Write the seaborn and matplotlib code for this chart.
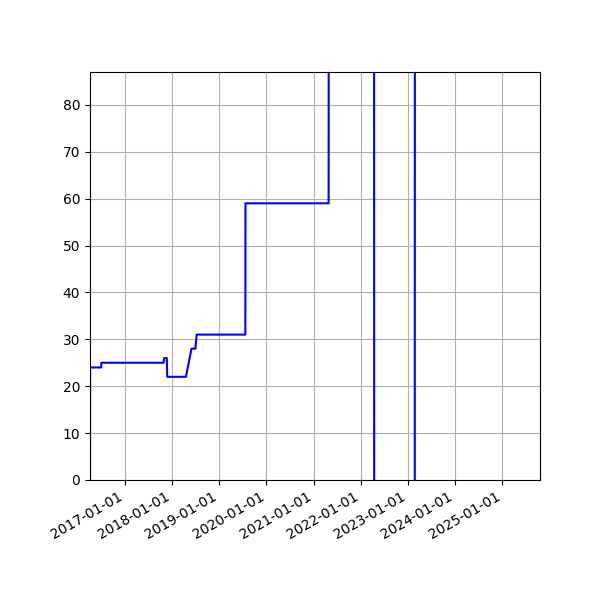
import seaborn as sns
import matplotlib.pyplot as plt
import matplotlib.dates as mdates
import pandas as pd

# 값이 계단 모양으로 바뀌는 시점들
dates = ['2016-04-05', '2016-04-06', '2016-07-01', '2016-07-02', '2017-10-26',
         '2017-10-31', '2017-11-21', '2017-11-24', '2018-04-18', '2018-05-31',
         '2018-06-30', '2018-07-10', '2019-07-22', '2019-07-23', '2021-04-27',
         '2021-04-28', '2022-04-14', '2022-04-15', '2023-02-23', '2023-02-24',
         '2025-10-20']
values = [-5, 24, 24, 25, 25,
          26, 26, 22, 22, 28,
          28, 31, 31, 59, 59,
          120, 120, -20, -20, 120,
          120]

df = pd.DataFrame({'date': pd.to_datetime(dates), 'value': values})

fig, ax = plt.subplots(figsize=(6, 6), dpi=100)
sns.lineplot(data=df, x='date', y='value', estimator=None, color='b', linewidth=1.5, ax=ax)

ax.set_xlim(df['date'].min(), df['date'].max())
ax.set_ylim(0, 87)
ax.xaxis.set_major_locator(mdates.YearLocator())
ax.xaxis.set_major_formatter(mdates.DateFormatter('%Y-%m-%d'))
ax.set_xlabel('')
ax.set_ylabel('')
ax.grid(True)

fig.autofmt_xdate()
fig.subplots_adjust(left=0.15, right=0.9, top=0.88, bottom=0.2)
fig.savefig('out.png')
